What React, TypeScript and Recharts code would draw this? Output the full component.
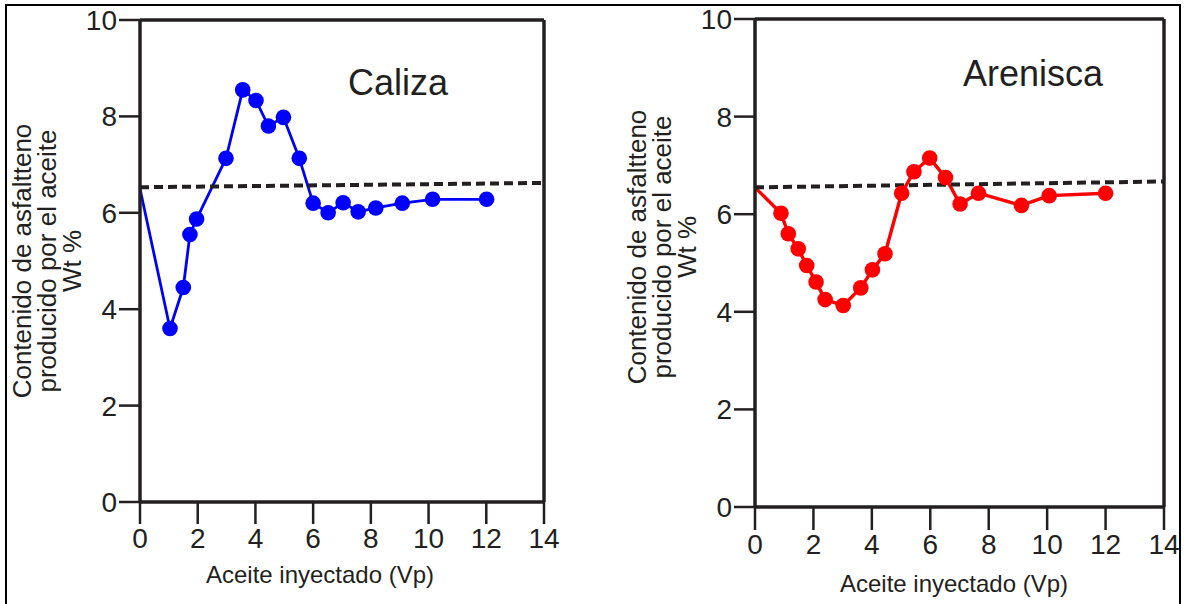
import { LineChart, Line, XAxis, YAxis, ReferenceLine } from "recharts"

// Caliza (blue) - x: Vp injected, y: wt %
const calizaX = [0, 1.04, 1.5, 1.73, 1.96, 2.98, 3.56, 4.02, 4.45, 4.97, 5.52, 6.0, 6.52, 7.04, 7.56, 8.17, 9.09, 10.14, 12.01]
const calizaY = [6.5, 3.6, 4.45, 5.55, 5.87, 7.13, 8.55, 8.33, 7.8, 7.98, 7.13, 6.2, 6.0, 6.21, 6.02, 6.1, 6.2, 6.28, 6.28]

// Arenisca (red)
const areniscaX = [0, 0.89, 1.14, 1.48, 1.77, 2.09, 2.4, 3.02, 3.62, 4.02, 4.45, 5.02, 5.44, 5.98, 6.52, 7.02, 7.65, 9.12, 10.07, 12.0]
const areniscaY = [6.55, 6.02, 5.6, 5.29, 4.95, 4.61, 4.25, 4.13, 4.49, 4.86, 5.19, 6.43, 6.87, 7.15, 6.75, 6.21, 6.43, 6.18, 6.38, 6.43]

// dashed reference (start / end)
const calizaRefX = [0, 14]
const calizaRefY = [6.53, 6.62]
const areniscaRefX = [0, 14]
const areniscaRefY = [6.55, 6.67]

const xTicks = [0, 2, 4, 6, 8, 10, 12, 14]
const yTicks = [0, 2, 4, 6, 8, 10]

const titleLeft = "Caliza"
const titleRight = "Arenisca"
const xTitle = "Aceite inyectado (Vp)"
const yTitle = ["Contenido de asfaltteno", "producido por el aceite", "Wt %"]

const zip = (xs: number[], ys: number[]) => xs.map((x, i) => ({ x, y: ys[i] }))

const FONT = "'Liberation Sans', Arial, sans-serif"
const INK = "#231f20"

const makeDot = (color: string) => (props: any) => {
  const { cx, cy, index } = props
  if (index === 0) return <g key={`dot-${index}`} />
  return <circle key={`dot-${index}`} cx={cx} cy={cy} r={7.8} fill={color} stroke="none" />
}

interface PanelProps {
  data: { x: number; y: number }[]
  refData: { x: number; y: number }[]
  color: string
  lineWidth: number
  width: number
  yAxisWidth: number
  margin: { top: number; right: number; bottom: number; left: number }
  tickLen: number
}

function Panel({ data, refData, color, lineWidth, width, yAxisWidth, margin, tickLen }: PanelProps) {
  return (
    <LineChart width={width} height={604} margin={margin}>
      <XAxis
        type="number"
        dataKey="x"
        domain={[0, 14]}
        ticks={xTicks}
        height={60}
        tickSize={tickLen}
        tickMargin={4}
        axisLine={{ stroke: INK, strokeWidth: 3.5 }}
        tickLine={{ stroke: INK, strokeWidth: 2.5 }}
        tick={{ fill: INK, fontSize: 28, fontFamily: FONT }}
        allowDataOverflow
      />
      <YAxis
        type="number"
        dataKey="y"
        domain={[0, 10]}
        ticks={yTicks}
        width={yAxisWidth}
        tickSize={21}
        tickMargin={2}
        axisLine={{ stroke: INK, strokeWidth: 3.5 }}
        tickLine={{ stroke: INK, strokeWidth: 2.5 }}
        tick={{ fill: INK, fontSize: 28, fontFamily: FONT }}
        allowDataOverflow
      />
      <ReferenceLine y={10} stroke={INK} strokeWidth={3.5} />
      <ReferenceLine x={14} stroke={INK} strokeWidth={3.5} />
      <Line
        data={data}
        dataKey="y"
        type="linear"
        stroke={color}
        strokeWidth={lineWidth}
        strokeLinejoin="round"
        dot={makeDot(color)}
        activeDot={false}
        isAnimationActive={false}
      />
      <Line
        data={refData}
        dataKey="y"
        type="linear"
        stroke={INK}
        strokeWidth={4}
        strokeDasharray="9 5"
        dot={false}
        activeDot={false}
        isAnimationActive={false}
      />
    </LineChart>
  )
}

function YTitle({ xs, cy }: { xs: number[]; cy: number }) {
  return (
    <>
      {yTitle.map((t, i) => (
        <text
          key={i}
          transform={`translate(${xs[i]},${cy}) rotate(-90)`}
          textAnchor="middle"
          dominantBaseline="central"
          fontSize={26}
          fontFamily={FONT}
          fill={INK}
        >
          {t}
        </text>
      ))}
    </>
  )
}

export default function App() {
  return (
    <div style={{ position: "absolute", left: 0, top: 0, width: 1186, height: 604, background: "#fff", overflow: "hidden" }}>
      <div style={{ position: "absolute", left: 0, top: 0 }}>
        <Panel
          data={zip(calizaX, calizaY)}
          refData={zip(calizaRefX, calizaRefY)}
          color="#0000ff"
          lineWidth={2.8}
          width={580}
          yAxisWidth={140}
          margin={{ top: 20, right: 36, bottom: 42, left: 0 }}
          tickLen={22}
        />
      </div>
      <div style={{ position: "absolute", left: 590, top: 0 }}>
        <Panel
          data={zip(areniscaX, areniscaY)}
          refData={zip(areniscaRefX, areniscaRefY)}
          color="#ff0000"
          lineWidth={3.4}
          width={596}
          yAxisWidth={165}
          margin={{ top: 19, right: 22, bottom: 37, left: 0 }}
          tickLen={23}
        />
      </div>
      <svg width={1186} height={604} style={{ position: "absolute", left: 0, top: 0, pointerEvents: "none" }}>
        <text x={398} y={95} textAnchor="middle" fontSize={36} fontFamily={FONT} fill={INK}>{titleLeft}</text>
        <text x={1033} y={86} textAnchor="middle" fontSize={36} fontFamily={FONT} fill={INK}>{titleRight}</text>
        <text x={320} y={583} textAnchor="middle" fontSize={24} fontFamily={FONT} fill={INK}>{xTitle}</text>
        <text x={954} y={592} textAnchor="middle" fontSize={24} fontFamily={FONT} fill={INK}>{xTitle}</text>
        <YTitle xs={[22, 47, 72]} cy={261} />
        <YTitle xs={[637, 662, 687]} cy={247} />
      </svg>
      <div style={{ position: "absolute", left: 5, top: 4, width: 1176, height: 604, border: "2px solid #000", boxSizing: "border-box" }} />
    </div>
  )
}
